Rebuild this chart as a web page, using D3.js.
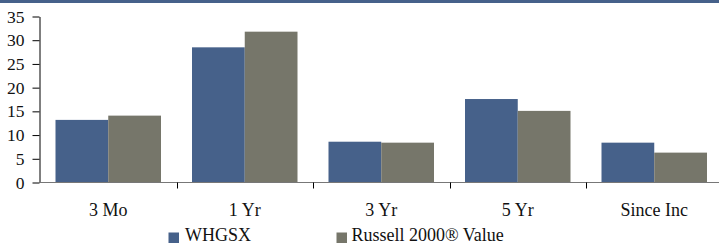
<!DOCTYPE html>
<html>
<head>
<meta charset="utf-8">
<script src="https://cdn.jsdelivr.net/npm/d3@7"></script>
<style>
  html, body { margin: 0; padding: 0; background: #fff; }
  svg { display: block; }
</style>
</head>
<body>
<svg id="chart" width="719" height="244"></svg>
<script>
const categories = ["3 Mo", "1 Yr", "3 Yr", "5 Yr", "Since Inc"];
const seriesNames = ["WHGSX", "Russell 2000\u00AE Value"];
const whgsx = [13.2, 28.5, 8.6, 17.6, 8.4];
const russell = [14.1, 31.8, 8.4, 15.1, 6.3];
const yTicks = [0, 5, 10, 15, 20, 25, 30, 35];
const colors = ["#46618A", "#76766A"];

const FONT = "'Liberation Serif', 'Times New Roman', 'DejaVu Serif', serif";
const svg = d3.select("#chart");
const W = 719, H = 244;

// top band
svg.append("rect").attr("x", 0).attr("y", 0).attr("width", W).attr("height", 3).attr("fill", "#46618A");

const x0 = d3.scaleBand().domain(categories).range([40, 722.5]).paddingInner(0).paddingOuter(0);
const x1 = d3.scaleBand().domain(seriesNames).range([15.5, x0.bandwidth() - 15.5]).padding(0);
const y = d3.scaleLinear().domain([0, 35]).range([182.5, 16.5]);

const rows = categories.map((c, i) => ({ cat: c, vals: [whgsx[i], russell[i]] }));

const g = svg.append("g");
g.selectAll("g.cat").data(rows).join("g")
  .attr("class", "cat")
  .attr("transform", d => `translate(${x0(d.cat)},0)`)
  .selectAll("rect").data(d => d.vals.map((v, j) => ({ v, s: seriesNames[j], j })))
  .join("rect")
  .attr("x", d => x1(d.s))
  .attr("width", x1.bandwidth())
  .attr("y", d => y(d.v))
  .attr("height", d => y(0) - y(d.v))
  .attr("fill", d => colors[d.j]);

// y axis
const yAxis = d3.axisLeft(y).tickValues(yTicks).tickSize(7).tickPadding(8).tickSizeOuter(0);
const ya = svg.append("g").attr("transform", "translate(39.5,0)").call(yAxis)
  .attr("font-family", null).attr("font-size", null);
ya.select(".domain").attr("stroke", "#000");
ya.selectAll(".tick line").attr("stroke", "#000");
ya.selectAll("text").style("font-family", FONT).style("font-size", "17.5px").attr("fill", "#111");

// x axis
const xa = svg.append("g").attr("transform", "translate(0,182.5)");
xa.append("line").attr("x1", 39.5).attr("x2", W).attr("y1", 0).attr("y2", 0).attr("stroke", "#777").attr("stroke-width", 1.2);
const bounds = categories.map(c => x0(c)).concat([x0.range()[1]]);
xa.selectAll("line.tk").data(bounds.slice(1, 5)).join("line")
  .attr("class", "tk")
  .attr("x1", d => Math.round(d) + 0.5).attr("x2", d => Math.round(d) + 0.5)
  .attr("y1", 0).attr("y2", 6).attr("stroke", "#000");
xa.selectAll("text").data(categories).join("text")
  .attr("x", d => x0(d) + x0.bandwidth() / 2)
  .attr("y", 33.5)
  .attr("text-anchor", "middle")
  .style("font-family", FONT)
  .style("font-size", "18px")
  .attr("fill", "#111")
  .text(d => d);

// legend
const legendRectX = [168.5, 336.5];
const legendTextX = [185, 351.5];
const lg = svg.append("g");
seriesNames.forEach((s, i) => {
  lg.append("rect").attr("x", legendRectX[i]).attr("y", 232.5).attr("width", 10.5).attr("height", 10.5).attr("fill", colors[i]);
  lg.append("text").attr("x", legendTextX[i]).attr("y", 240.5)
    .style("font-family", FONT).style("font-size", "18px").attr("fill", "#111").text(s);
});
</script>
</body>
</html>
